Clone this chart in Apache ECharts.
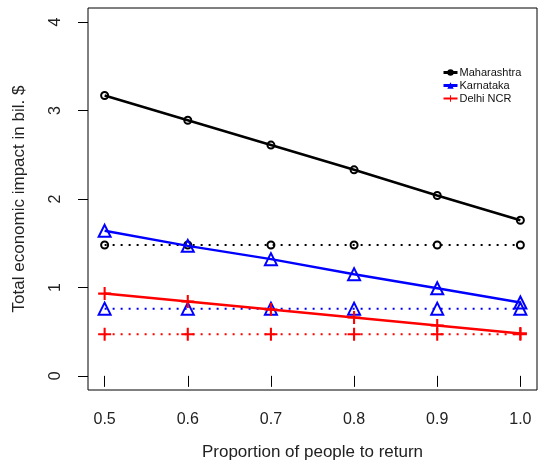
<!DOCTYPE html>
<html><head><meta charset="utf-8">
<script src="https://cdn.jsdelivr.net/npm/echarts@6/dist/echarts.min.js"></script>
<style>html,body{margin:0;padding:0;background:#fff}#c{width:540px;height:467px}</style>
</head><body><div id="c"></div>
<script>
const proportions = [0.5, 0.6, 0.7, 0.8, 0.9, 1.0];
const maharashtra = [3.17, 2.89, 2.61, 2.33, 2.04, 1.76];
const karnataka = [1.64, 1.47, 1.32, 1.15, 0.99, 0.83];
const delhi = [0.93, 0.84, 0.75, 0.66, 0.57, 0.48];
const maharashtraBase = [1.48, 1.48, 1.48, 1.48, 1.48, 1.48];
const karnatakaBase = [0.76, 0.76, 0.76, 0.76, 0.76, 0.76];
const delhiBase = [0.47, 0.47, 0.47, 0.47, 0.47, 0.47];
const xTicks = [0.5, 0.6, 0.7, 0.8, 0.9, 1.0];
const yTicks = [0, 1, 2, 3, 4];

const pair = (ys) => proportions.map((x, i) => [x, ys[i]]);
const plusPath = 'path://M4.2,0h1.6v4.2h4.2v1.6h-4.2v4.2h-1.6v-4.2h-4.2v-1.6h4.2z';
const FONT = 'Liberation Sans, Arial, sans-serif';

const styles = {
  Maharashtra: {color: '#000', symbol: 'circle', size: 7, fill: 'rgba(0,0,0,0)', border: 2},
  Karnataka: {color: '#0000ff', symbol: 'triangle', size: 12, fill: 'rgba(0,0,0,0)', border: 2},
  'Delhi NCR': {color: '#ff0000', symbol: plusPath, size: 13, fill: '#ff0000', border: 0}
};

function mk(name, ys, dotted, legendName) {
  const s = styles[legendName];
  return {
    name: name, type: 'line', data: pair(ys),
    symbol: s.symbol, symbolSize: s.size, showSymbol: true,
    itemStyle: {color: s.fill, borderColor: s.color, borderWidth: s.border},
    lineStyle: {color: s.color, width: dotted ? 2 : 2.5, type: dotted ? [2, 6] : 'solid'},
    animation: false, z: dotted ? 2 : 3
  };
}

const chart = echarts.init(document.getElementById('c'));
chart.setOption({
  animation: false,
  grid: {left: 88, right: 3, top: 8, bottom: 77, show: true, borderColor: '#000', borderWidth: 1},
  legend: {
    orient: 'vertical', left: 437, top: 62, itemGap: 2, itemWidth: 14, itemHeight: 8,
    textStyle: {fontFamily: FONT, fontSize: 11, color: '#111', padding: [0, 0, 0, -3]},
    data: [
      {name: 'Maharashtra', itemStyle: {color: '#000', borderColor: '#000', borderWidth: 0}, lineStyle: {color: '#000', width: 3}},
      {name: 'Karnataka', itemStyle: {color: '#0000ff', borderColor: '#0000ff', borderWidth: 0}, lineStyle: {color: '#0000ff', width: 3}},
      {name: 'Delhi NCR', itemStyle: {color: '#ff0000', borderWidth: 0}, lineStyle: {color: '#ff0000', width: 2}}
    ]
  },
  xAxis: {
    type: 'value', min: 0.48, max: 1.02,
    name: 'Proportion of people to return', nameLocation: 'middle', nameGap: 54,
    nameTextStyle: {fontFamily: FONT, fontSize: 17, color: '#222'},
    axisLine: {show: false},
    splitLine: {show: false},
    axisTick: {show: true, length: 11, customValues: xTicks, lineStyle: {color: '#000', width: 1}},
    axisLabel: {customValues: xTicks, margin: 22, fontFamily: FONT, fontSize: 16, color: '#222',
      formatter: v => v.toFixed(1)}
  },
  yAxis: {
    type: 'value', min: -0.16, max: 4.16,
    name: 'Total economic impact in bil. $', nameLocation: 'middle', nameGap: 60,
    nameTextStyle: {fontFamily: FONT, fontSize: 17, color: '#222'},
    axisLine: {show: false},
    splitLine: {show: false},
    axisTick: {show: true, length: 10, customValues: yTicks, lineStyle: {color: '#000', width: 1}},
    axisLabel: {customValues: yTicks, margin: 24, rotate: 90, fontFamily: FONT, fontSize: 16, color: '#222'}
  },
  series: [
    mk('Maharashtra', maharashtra, false, 'Maharashtra'),
    mk('Karnataka', karnataka, false, 'Karnataka'),
    mk('Delhi NCR', delhi, false, 'Delhi NCR'),
    mk('Maharashtra base', maharashtraBase, true, 'Maharashtra'),
    mk('Karnataka base', karnatakaBase, true, 'Karnataka'),
    mk('Delhi NCR base', delhiBase, true, 'Delhi NCR')
  ]
});
</script></body></html>
